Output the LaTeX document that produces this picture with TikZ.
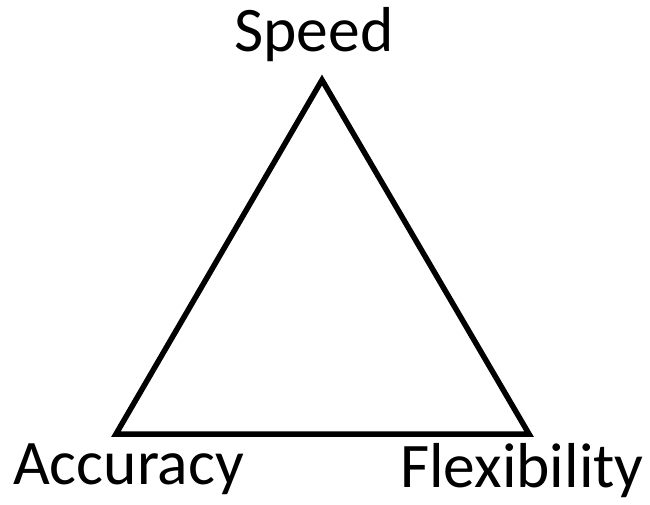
\documentclass[tikz,border=0pt]{standalone}
\usepackage{fontspec}
\setmainfont{Carlito}
\usetikzlibrary{positioning}

\begin{document}
\begin{tikzpicture}[
  x=1pt,y=-1pt,
  corner/.style={font=\fontsize{63.5}{72}\selectfont,inner sep=0pt,anchor=base}
]
  \useasboundingbox (0,0) rectangle (650,505);
  \coordinate (top) at (322,80);
  \coordinate (left) at (116,434);
  \coordinate (right) at (529,434);

  \node[corner] (speed) at (314,52) {Speed};
  \node[corner,anchor=base west] (accuracy) at (13,484) {Accuracy};
  \node[corner,anchor=base east] (flexibility) at (644,487) {Flexibility};

  \draw[line width=5.5pt,line join=miter] (top) -- (right) -- (left) -- cycle;
\end{tikzpicture}
\end{document}
